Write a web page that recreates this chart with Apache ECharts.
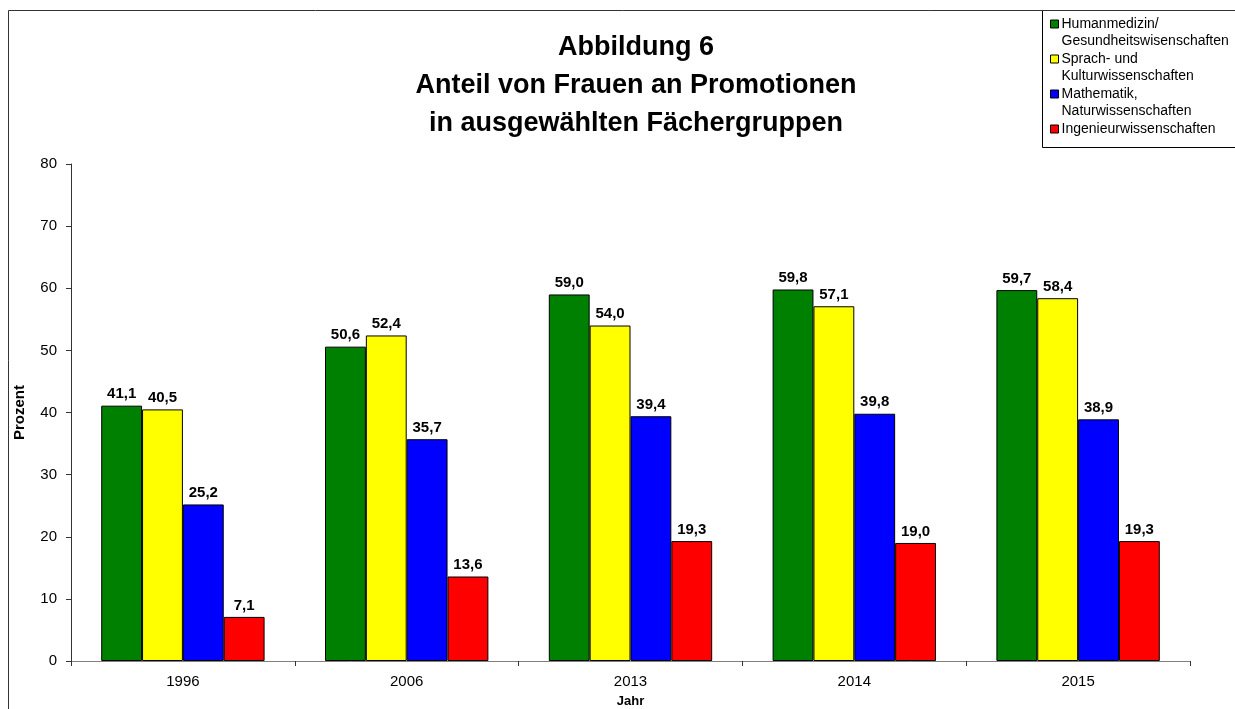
<!DOCTYPE html>
<html>
<head>
<meta charset="utf-8">
<script src="https://cdn.jsdelivr.net/npm/echarts@6/dist/echarts.min.js"></script>
<style>
    html, body { margin: 0; padding: 0; background: #fff; }
    #chart { width: 1235px; height: 709px; }
</style>
</head>
<body>
<div id="chart"></div>
<script>
// chart values
var years = ['1996', '2006', '2013', '2014', '2015'];
var seriesNames = [
    'Humanmedizin/\nGesundheitswisenschaften',
    'Sprach- und\nKulturwissenschaften',
    'Mathematik,\nNaturwissenschaften',
    'Ingenieurwissenschaften'
];
var humanmedizin = [41.1, 50.6, 59.0, 59.8, 59.7];
var sprachKultur = [40.5, 52.4, 54.0, 57.1, 58.4];
var mathematik = [25.2, 35.7, 39.4, 39.8, 38.9];
var ingenieur = [7.1, 13.6, 19.3, 19.0, 19.3];
var yTicks = [0, 10, 20, 30, 40, 50, 60, 70, 80];

var colors = ['#008000', '#ffff00', '#0000ff', '#ff0000'];
var values = [humanmedizin, sprachKultur, mathematik, ingenieur];
var font = '"Liberation Sans", Arial, sans-serif';

// legend square sits on the first text line
var iconTop = 'path://M0,4.5L8,4.5L8,12.5L0,12.5Z M0,0L0.001,0 M0,34L0.001,34';

var chart = echarts.init(document.getElementById('chart'));

chart.setOption({
    animation: false,
    textStyle: { fontFamily: font },
    title: {
        text: 'Abbildung 6\nAnteil von Frauen an Promotionen\nin ausgewählten Fächergruppen',
        left: 631,
        textAlign: 'center',
        top: 24,
        textStyle: {
            fontFamily: font,
            fontSize: 27,
            fontWeight: 'bold',
            color: '#000',
            lineHeight: 38
        }
    },
    graphic: [
        {
            type: 'rect',
            shape: { x: 8.5, y: 10.5, width: 1240, height: 720 },
            style: { fill: 'none', stroke: '#333', lineWidth: 1 },
            silent: true
        },
        {
            type: 'rect',
            shape: { x: 1042.5, y: 10.5, width: 200, height: 137 },
            style: { fill: '#fff', stroke: '#000', lineWidth: 1 },
            silent: true,
            z: -1
        }
    ],
    legend: {
        orient: 'vertical',
        left: 1050,
        top: 15,
        itemWidth: 8,
        itemHeight: 34,
        itemGap: 0,
        padding: 0,
        selectedMode: false,
        icon: iconTop,
        data: seriesNames,
        // one-line entry padded so its text sits on the top line like the others
        formatter: function (name) {
            return name.indexOf('\n') < 0 ? name + '\n ' : name;
        },
        itemStyle: { borderColor: '#000', borderWidth: 1 },
        textStyle: {
            fontFamily: font,
            fontSize: 14,
            lineHeight: 17,
            color: '#000',
            padding: [0, 0, 0, -2]
        }
    },
    grid: {
        left: 71,
        right: 45,
        top: 164,
        bottom: 48,
        containLabel: false,
        outerBoundsMode: 'none'
    },
    xAxis: {
        type: 'category',
        data: years,
        name: 'Jahr',
        nameLocation: 'middle',
        nameGap: 34,
        nameTextStyle: { fontFamily: font, fontSize: 13, fontWeight: 'bold', color: '#000' },
        axisLine: { lineStyle: { color: '#808080', width: 1 } },
        axisTick: { show: true, inside: false, length: 5, alignWithLabel: false, lineStyle: { color: '#333' } },
        axisLabel: { fontFamily: font, fontSize: 15, color: '#000', margin: 13 }
    },
    yAxis: {
        type: 'value',
        min: yTicks[0],
        max: yTicks[yTicks.length - 1],
        interval: 10,
        name: 'Prozent',
        nameLocation: 'middle',
        nameGap: 44,
        nameRotate: 90,
        nameTextStyle: { fontFamily: font, fontSize: 15, fontWeight: 'bold', color: '#000' },
        axisLine: { show: true, lineStyle: { color: '#333', width: 1 } },
        axisTick: { show: true, inside: false, length: 5, lineStyle: { color: '#333' } },
        axisLabel: { fontFamily: font, fontSize: 15, color: '#000', margin: 14 },
        splitLine: { show: false }
    },
    series: values.map(function (data, i) {
        return {
            name: seriesNames[i],
            type: 'bar',
            data: data,
            barGap: '0%',
            barCategoryGap: '27%',
            itemStyle: {
                color: colors[i],
                borderColor: '#000',
                borderWidth: 1
            },
            label: {
                show: true,
                position: 'top',
                distance: 4,
                fontFamily: font,
                fontSize: 15,
                fontWeight: 'bold',
                color: '#000',
                formatter: function (p) {
                    return p.value.toFixed(1).replace('.', ',');
                }
            }
        };
    })
});
</script>
</body>
</html>
